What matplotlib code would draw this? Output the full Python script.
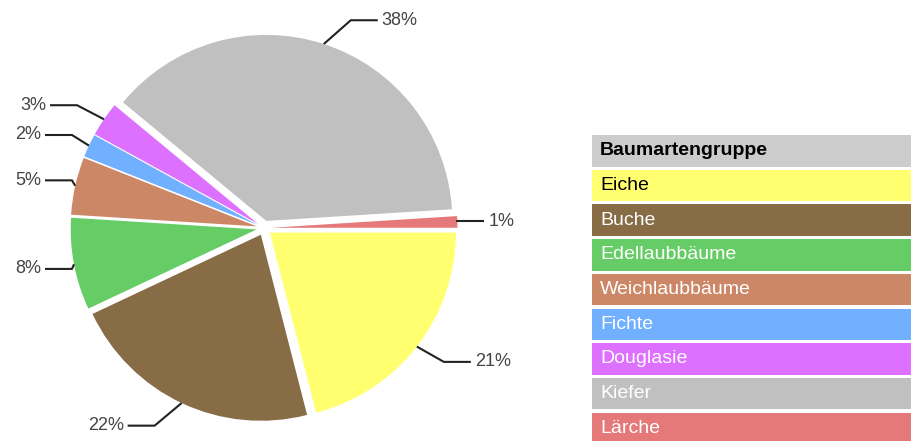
"""Baumartengruppen pie chart with a table-style legend on the right."""
import matplotlib

matplotlib.use("Agg")
import matplotlib.pyplot as plt
import numpy as np
from matplotlib.patches import Rectangle

W, H = 911, 441

categories = [
    "Eiche",
    "Buche",
    "Edellaubbäume",
    "Weichlaubbäume",
    "Fichte",
    "Douglasie",
    "Kiefer",
    "Lärche",
]
shares = [21, 22, 8, 5, 2, 3, 38, 1]
colors = [
    "#ffff70",
    "#876c45",
    "#66cc66",
    "#cc8866",
    "#70b0ff",
    "#dd70ff",
    "#c0c0c0",
    "#e57878",
]
legend_text_colors = ["black", "white", "white", "white", "white", "white", "white", "white"]
legend_title = "Baumartengruppe"
header_color = "#cccccc"

# pie geometry in pixels (y measured from top)
CX, CY, R = 264, 228, 186
EXPLODE = 0.04
LEADER = 25
MIN_DX = 27
TAIL = 27

plt.rcParams["font.family"] = ["Liberation Sans", "DejaVu Sans"]

fig = plt.figure(figsize=(W / 100, H / 100), dpi=100)
ax = fig.add_axes([0, 0, 1, 1])
wedges, _ = ax.pie(
    shares,
    colors=colors,
    startangle=0,
    counterclock=False,
    radius=R,
    center=(CX, H - CY),
    explode=[EXPLODE * R] * len(shares),
    wedgeprops=dict(linewidth=0),
)
ax.set_xlim(0, W)
ax.set_ylim(0, H)
ax.set_aspect("auto")
ax.axis("off")

# percentage labels with elbow leader lines
for wedge, share in zip(wedges, shares):
    theta = np.radians((wedge.theta1 + wedge.theta2) / 2.0)
    ux, uy = np.cos(theta), np.sin(theta)
    wx, wy = wedge.center
    px, py = wx + R * ux, wy + R * uy
    ey = py + LEADER * uy
    dx = max(abs(LEADER * ux), MIN_DX)
    if ux >= 0:
        ex = max(px, min(px + dx, CX + R + 6))
        tx = ex + TAIL
        ha, text_x = "left", tx + 4
    else:
        ex = min(px, max(px - dx, CX - R - 6))
        tx = ex - TAIL
        ha, text_x = "right", tx - 4
    ax.plot([px, ex, tx], [py, ey, ey], color="#222222", lw=1.5, solid_capstyle="butt")
    ax.text(text_x, ey, f"{share}%", ha=ha, va="center", fontsize=13, color="#444444")

# legend table
row_top, row_pitch, row_h, row_x = 135, 34.7, 31.5, 592
rows = [(legend_title, header_color, "black", "bold")] + [
    (name, col, tcol, "normal") for name, col, tcol in zip(categories, colors, legend_text_colors)
]
for i, (name, col, tcol, weight) in enumerate(rows):
    top = row_top + i * row_pitch
    ax.add_patch(Rectangle((row_x, H - top - row_h), 340, row_h, facecolor=col, edgecolor="none"))
    ax.text(row_x + 8, H - top - row_h / 2, name, ha="left", va="center",
            fontsize=14, color=tcol, fontweight=weight)

fig.savefig("out.png", dpi=100)
